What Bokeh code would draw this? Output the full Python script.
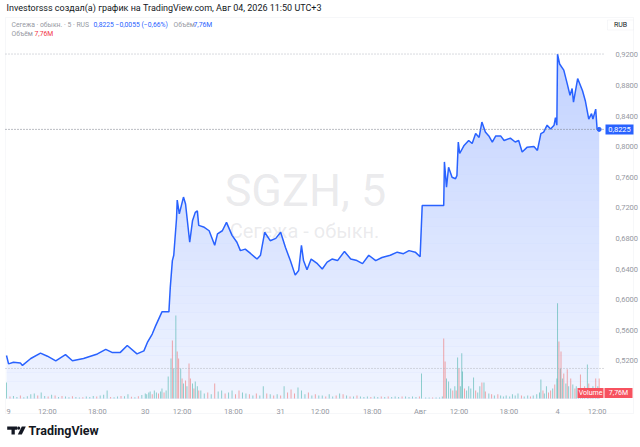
import numpy as np
from bokeh.plotting import figure
from bokeh.models import (Range1d, FixedTicker, CustomJSTickFormatter, Label,
                          BoxAnnotation, PolyAnnotation)
from bokeh.embed import file_html
from bokeh.resources import INLINE

# ---------------- data (5-minute bar index -> close price, RUB) ----------------
price_bar = [0, 3, 10, 20, 23, 35, 49, 59, 71, 85, 95, 111, 131, 143, 152, 164, 174, 188, 198,
             203, 210, 215, 224, 234, 236, 239, 241, 245, 246, 249, 255, 258, 264, 268, 272, 275,
             277, 284, 292, 300, 304, 311, 317, 325, 332, 337, 344, 352, 361, 366, 372, 380, 388,
             395, 402, 409, 416, 421, 425, 428, 433, 439, 448, 455, 462, 469, 477, 487, 496, 505,
             513, 522, 532, 541, 553, 563, 572, 580, 589, 596, 599, 630, 631, 634, 637, 642, 647,
             649, 651, 653, 659, 666, 671, 676, 681, 685, 690, 695, 700, 705, 712, 717, 726, 733,
             738, 743, 750, 760, 765, 770, 774, 779, 784, 789, 791, 793, 794, 797, 803, 808, 812,
             815, 817, 823, 830, 834, 839, 843, 845, 849, 851, 854]
price = [0.527, 0.516, 0.518, 0.517, 0.514, 0.523, 0.530, 0.526, 0.520, 0.528, 0.520, 0.523,
         0.529, 0.535, 0.531, 0.531, 0.540, 0.529, 0.533, 0.544, 0.555, 0.566, 0.584, 0.584,
         0.616, 0.651, 0.658, 0.706, 0.730, 0.712, 0.734, 0.725, 0.675, 0.703, 0.714, 0.716,
         0.697, 0.695, 0.690, 0.671, 0.686, 0.690, 0.701, 0.684, 0.675, 0.664, 0.666, 0.660,
         0.653, 0.658, 0.688, 0.677, 0.680, 0.688, 0.668, 0.651, 0.632, 0.638, 0.671, 0.651,
         0.639, 0.653, 0.647, 0.640, 0.649, 0.653, 0.651, 0.663, 0.653, 0.651, 0.647, 0.658,
         0.651, 0.655, 0.658, 0.662, 0.660, 0.664, 0.662, 0.656, 0.723, 0.723, 0.780, 0.747,
         0.773, 0.760, 0.758, 0.762, 0.806, 0.791, 0.801, 0.808, 0.804, 0.817, 0.812, 0.832,
         0.819, 0.814, 0.806, 0.814, 0.814, 0.808, 0.811, 0.806, 0.808, 0.793, 0.799, 0.800,
         0.795, 0.817, 0.819, 0.828, 0.823, 0.828, 0.838, 0.828, 0.921, 0.908, 0.900, 0.882,
         0.867, 0.876, 0.858, 0.889, 0.873, 0.860, 0.836, 0.843, 0.836, 0.849, 0.823, 0.8225]
last_price = 0.8225
session_high = 0.921
session_low = 0.510

# volume (millions of shares) per bar; direction g = up bar, r = down bar
vol_bar = [0, 5, 10, 15, 20, 25, 30, 35, 40, 45, 50, 55, 60, 65, 70, 75, 80, 85, 90, 95,
           100, 105, 110, 115, 120, 125, 130, 135, 140, 145, 150, 155, 160, 165, 170, 175, 180, 185, 190, 195,
           200, 202, 205, 207, 210, 213, 216, 219, 222, 224, 227, 230,
           233, 237, 239, 241, 244, 246, 248, 251, 253, 255, 258, 260, 263, 265, 268, 270, 272, 275, 277, 280,
           285, 290, 295, 300, 305, 310, 315, 320, 325, 330, 335, 340, 345, 350, 355, 360, 365, 370, 375, 380,
           385, 390, 395, 400, 405, 410, 415, 420, 425, 430, 435, 440, 445, 450, 455, 460, 465, 470, 475, 480,
           485, 490, 495, 500, 505, 510, 515, 520, 525, 530, 535, 540, 545, 550, 555, 560, 565, 570, 575, 580,
           585, 590, 595,
           598, 604, 609, 614, 619, 624, 628, 630, 632, 634, 637, 640, 643, 646, 648, 650, 652, 654, 656, 657,
           660, 663, 666, 669, 673, 676, 679, 682, 685, 688, 690, 695, 699, 703, 708, 712, 716, 720, 725, 729,
           733, 737, 742, 746, 751, 755, 759, 764, 768, 770, 773, 775, 778, 781, 784, 787, 790, 793, 794, 796,
           798, 799, 801, 803, 806, 808, 810, 813, 816, 819, 821, 824, 827, 830, 833, 837, 839, 842, 845, 849,
           852, 854]
vol_m = [6.2, 0.8, 1.0, 0.6, 1.2, 0.5, 0.9, 1.6, 1.9, 1.2, 2.3, 1.0, 0.8, 1.5, 1.2, 0.6, 1.0, 0.8, 0.5, 0.9,
         0.6, 0.4, 0.5, 0.8, 0.6, 1.0, 0.8, 1.2, 1.5, 3.1, 0.6, 0.5, 0.8, 1.0, 0.9, 1.6, 0.7, 0.5, 0.9, 1.4,
         1.9, 1.6, 2.3, 2.7, 1.6, 3.1, 2.3, 1.9, 2.7, 3.9, 2.3, 3.1,
         8.5, 15.5, 22.5, 11.6, 32.2, 18.2, 15.5, 11.6, 7.8, 5.8, 7.0, 4.7, 13.6, 7.8, 5.8, 3.9, 6.6, 4.7, 3.1, 3.1,
         1.9, 2.3, 1.6, 5.8, 2.7, 3.1, 1.9, 2.3, 3.1, 1.6, 3.1, 2.3, 1.9, 1.6, 1.2, 1.9, 1.2, 4.7, 1.9, 1.6,
         1.2, 1.6, 1.2, 4.7, 2.3, 3.5, 1.9, 4.3, 3.1, 1.6, 2.3, 1.2, 1.6, 1.2, 1.2, 0.8, 1.6, 0.8, 1.2, 1.9,
         1.6, 1.2, 0.8, 0.8, 1.2, 0.8, 0.6, 0.8, 0.6, 0.8, 0.6, 0.8, 0.6, 0.8, 0.6, 0.8, 0.6, 0.8, 0.8, 0.6,
         0.8, 0.6, 0.8,
         9.7, 0.4, 0.4, 0.4, 0.4, 0.4, 0.8, 23.3, 14.3, 7.8, 6.6, 3.9, 3.1, 4.7, 3.1, 15.9, 11.6, 4.7, 17.5, 10.5,
         3.9, 3.1, 4.7, 3.9, 8.1, 3.1, 2.3, 4.7, 6.2, 6.2, 2.7, 1.9, 1.6, 1.2, 1.6, 1.2, 0.8, 1.2, 0.8, 1.6,
         1.2, 1.9, 1.2, 0.8, 1.2, 0.8, 1.2, 1.6, 2.3, 7.4, 3.1, 1.9, 4.7, 2.3, 3.1, 3.9, 5.4, 7.8, 36.9, 22.1,
         11.6, 18.2, 7.8, 9.7, 5.8, 11.3, 4.7, 7.8, 5.4, 3.9, 4.7, 3.1, 9.3, 3.9, 4.7, 13.2, 5.8, 3.9, 4.7, 7.8,
         4.7, 7.76]
vol_dir = ("grggrggggr" "ggrgrgrggr" "ggrgggrggg" "rggrggrgrg"
           "ggggrggrgg" "rg"
           "ggrggrrgrg" "rgrrgrggrg"
           "grgrggrggr" "rggrgrggrg" "rgrgrrrggg" "rgrggrggrg" "rgrgrgggrg" "grgrgggrgg"
           "ggrg" "ggrgggrr"
           "gggrgrgrgg" "grggggrggr" "grgrgrgggg" "gggrggrggg" "grggrrgrgg" "rgrgrgrgrg"
           "rggrgrgrrg" "rgr")
vol_last = "7,76M"

tick_bars = [3, 59, 131, 200, 253, 327, 395, 452, 527, 596, 652, 724, 794, 851]
tick_labels = ["9", "12:00", "18:00", "30", "12:00", "18:00", "31", "12:00", "18:00",
               "Авг", "12:00", "18:00", "4", "12:00"]
price_ticks = [0.52, 0.56, 0.60, 0.64, 0.68, 0.72, 0.76, 0.80, 0.84, 0.88, 0.92]

# ---------------- layout (page pixels <-> data) ----------------
W, H = 640, 447
PX0, PPB = 6.0, 0.694          # page x of bar 0, pixels per bar
PY92, PPV = 54.3, 30.6 / 0.04  # page y of 0.92 RUB, pixels per RUB
VPX = 2.58                     # pixels per million shares


def sx(px):
    return (px - PX0) / PPB


def sy(py):
    return 0.92 - (py - PY92) / PPV


PANE_L, PANE_R, PANE_T, PANE_B = 5, 603, 17, 398

FONT = "Roboto"
GRAY = "#9598a1"
BLUE = "#2962ff"
RED = "#f23645"
VRED = "#f7525f"

p = figure(width=W, height=H, output_backend="svg", toolbar_location=None,
           x_range=Range1d(sx(0), sx(W)), y_range=Range1d(sy(H), sy(0)),
           y_axis_location="right",
           min_border_left=0, min_border_right=0, min_border_top=0, min_border_bottom=0,
           background_fill_color="white", border_fill_color="white")
p.outline_line_color = None
p.grid.visible = False
p.extra_y_ranges = {"vol": Range1d(-(H - PANE_B) / VPX, PANE_B / VPX)}

# axes (drawn at the pane edges)
xa = p.xaxis[0]
xa.ticker = FixedTicker(ticks=tick_bars)
xa.major_label_overrides = {b: t for b, t in zip(tick_bars, tick_labels)}
xa.fixed_location = sy(PANE_B)
ya = p.yaxis[0]
ya.ticker = FixedTicker(ticks=price_ticks)
ya.formatter = CustomJSTickFormatter(code="return tick.toFixed(4).replace('.', ',');")
ya.fixed_location = sx(PANE_R)
for ax in (xa, ya):
    ax.axis_line_color = None
    ax.major_tick_line_color = None
    ax.minor_tick_line_color = None
    ax.major_label_text_font = FONT
    ax.major_label_text_font_size = "7.5px"
    ax.major_label_text_color = GRAY
xa.major_label_standoff = 2
ya.major_label_standoff = 6

# container border
p.add_layout(BoxAnnotation(left=sx(PANE_L), right=sx(633), top=sy(PANE_T), bottom=sy(413),
                           fill_alpha=0, line_color="#e0e3eb", line_width=1, level="underlay"))

# gradient area: base fill + white fading bands
ybot = sy(PANE_B)
p.varea(x=price_bar, y1=ybot, y2=price, fill_color=BLUE, fill_alpha=0.28, level="image")
N = 40
top = max(price)
for k in range(N):
    lo = ybot + k * (top - ybot) / N
    hi = ybot + (k + 1) * (top - ybot) / N
    f = 1 - (k + 0.5) / N  # 0 at top, 1 at bottom
    a = 0.28 + (0.07 - 0.28) * f
    p.add_layout(BoxAnnotation(bottom=lo, top=hi, right=sx(PANE_R), fill_color="white",
                               fill_alpha=1 - a / 0.28, line_color=None, level="underlay"))

# watermark
p.add_layout(Label(x=sx(305), y=sy(190), text="SGZH, 5", text_font=FONT, text_font_size="45px",
                   text_color="#9598a1", text_alpha=0.2, text_align="center",
                   text_baseline="middle", level="underlay"))
p.add_layout(Label(x=sx(304), y=sy(230), text="Сегежа - обыкн.", text_font=FONT,
                   text_font_size="20px", text_color="#9598a1", text_alpha=0.2,
                   text_align="center", text_baseline="middle", level="underlay"))

# volume
vcolors = ["#26a69a" if d == "g" else "#ef5350" for d in vol_dir]
p.vbar(x=vol_bar, top=vol_m, bottom=0, width=1.4, fill_color=vcolors, fill_alpha=0.5,
       line_color=None, y_range_name="vol")

# price line
p.line(price_bar, price, line_color=BLUE, line_width=1.5)
p.scatter([price_bar[-1]], [price[-1]], size=4, color=BLUE)

# high / low / last price lines across the pane
p.segment(x0=[sx(PANE_L)] * 2, x1=[sx(PANE_R)] * 2, y0=[session_high, session_low],
          y1=[session_high, session_low], line_color="#b2b5be", line_dash="1 2", line_width=1)
p.segment(x0=[sx(PANE_L)], x1=[sx(PANE_R)], y0=[last_price], y1=[last_price],
          line_color="#787b86", line_dash="1 2", line_width=1)


# tag boxes on the scales
def tag(l, r, t, b, s, fill, color, line=None, size="7.5px", yc=None):
    p.add_layout(BoxAnnotation(left=sx(l), right=sx(r), top=sy(t), bottom=sy(b),
                               fill_color=fill, fill_alpha=1, line_color=line))
    p.add_layout(Label(x=sx((l + r) / 2), y=sy((t + b) / 2) if yc is None else yc, text=s,
                       text_font=FONT, text_font_size=size, text_color=color,
                       text_align="center", text_baseline="middle"))


tag(605, 633, 124, 134, "0,8225", BLUE, "white", yc=last_price)
tag(607, 633, 19.5, 29.5, "RUB", "white", "#131722", line="#e0e3eb", size="7px")
tag(577, 603, 387.5, 397.5, "Volume", VRED, "white", size="7px")
tag(604, 632, 387.5, 397.5, vol_last, VRED, "white", size="7px")


# header & legend
def txt(x, y, s, color, size="6.8px", bold=False):
    p.add_layout(Label(x=sx(x), y=sy(y), text=s, text_font=FONT, text_font_size=size,
                       text_color=color, text_baseline="middle",
                       text_font_style="bold" if bold else "normal"))


txt(6, 7.5, "Investorsss создал(а) график на TradingView.com, Авг 04, 2026 11:50 UTC+3",
    "#131722", "9px")
txt(11, 24.3, "Сегежа · обыкн. · 5 · RUS", GRAY)
txt(93, 24.3, "0,8225", BLUE)
txt(115, 24.3, "−0,0055 (−0,66%)", BLUE)
txt(173, 24.3, "Объём", GRAY)
txt(193, 24.3, "7,76M", BLUE)
txt(11, 33.7, "Объём", GRAY)
txt(34, 33.7, "7,76M", RED)


# TradingView logo
def poly(pts):
    p.add_layout(PolyAnnotation(xs=[sx(a) for a, b in pts], ys=[sy(b) for a, b in pts],
                                fill_color="#131722", fill_alpha=1, line_color=None))


poly([(6.7, 426), (16.7, 426), (16.7, 429.3), (14.3, 429.3), (14.3, 434), (11, 434), (11, 429.3), (6.7, 429.3)])
ang = np.linspace(0, 2 * np.pi, 12, endpoint=False)
poly([(18.2 + 1.6 * np.cos(t), 427.7 + 1.6 * np.sin(t)) for t in ang])
poly([(21.3, 426), (25.3, 426), (21.3, 434), (17.3, 434)])
txt(28, 430, "TradingView", "#131722", "12.5px", bold=True)

open("out.html", "w").write(file_html(p, INLINE))
